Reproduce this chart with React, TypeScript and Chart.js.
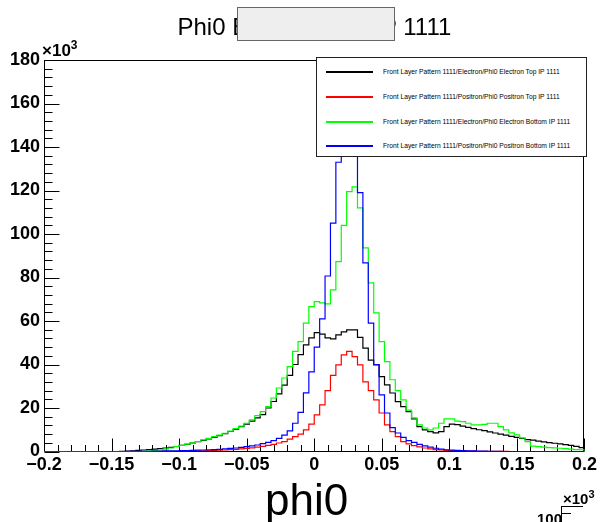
import React, { useEffect, useRef } from "react";
import { Chart, registerables } from "chart.js";

Chart.register(...registerables);

// ---- histogram binning (100 bins from -0.2 to 0.2) ----
const X_MIN = -0.2;
const X_MAX = 0.2;
const BIN_WIDTH = 0.004;

// ---- axis ticks ----
const xTickValues = [-0.2, -0.15, -0.1, -0.05, 0, 0.05, 0.1, 0.15, 0.2];
const xTickLabels = ["\u22120.2", "\u22120.15", "\u22120.1", "\u22120.05", "0", "0.05", "0.1", "0.15", "0.2"];
const xMinorPerMajor = 5;
const yTickValues = [0, 20, 40, 60, 80, 100, 120, 140, 160, 180];
const yMinorPerMajor = 5;

// ---- series (bin contents, in units of 10^3) ----
const seriesNames = [
  "Front Layer Pattern 1111/Electron/Phi0 Electron Top IP 1111",
  "Front Layer Pattern 1111/Positron/Phi0 Positron Top IP 1111",
  "Front Layer Pattern 1111/Electron/Phi0 Electron Bottom IP 1111",
  "Front Layer Pattern 1111/Positron/Phi0 Positron Bottom IP 1111",
];
const seriesColors = ["#000000", "#ff0000", "#00ff00", "#0000ff"];

const electronTop = [
  0, 0, 0, 0, 0, 0, 0, 0, 0, 0,
  0, 0, 0, 0, 0.1, 0.2, 0.3, 0.5, 0.7, 0.9,
  1.1, 1.3, 1.6, 1.9, 2.3, 2.8, 3.3, 3.9, 4.5, 5.1,
  5.8, 6.5, 7.3, 8.2, 9.2, 10.2, 11.4, 12.6, 14, 15.5,
  17, 20, 23, 26.5, 30.5, 35, 40, 44.5, 49, 52.2,
  54.7, 54, 52.2, 51.8, 53.6, 55, 55.9, 55.9, 52.5, 47.5,
  42, 39.8, 34.4, 30.6, 26.9, 22.9, 20.6, 18.3, 15, 11.4,
  9.9, 9.1, 8.6, 9.1, 11.4, 12.6, 12.4, 11.7, 11.1, 10.5,
  10, 9.6, 9, 8.5, 8, 7.5, 7, 6.5, 6, 5.5,
  5.2, 4.8, 4.4, 4.1, 3.8, 3.5, 3.2, 2.8, 2.4, 1.8,
];

const positronTop = [
  0, 0, 0, 0, 0, 0, 0, 0, 0, 0,
  0, 0, 0, 0, 0, 0, 0, 0, 0, 0,
  0.05, 0.07, 0.1, 0.1, 0.12, 0.15, 0.2, 0.25, 0.3, 0.35,
  0.4, 0.5, 0.6, 0.7, 0.85, 1, 1.2, 1.4, 1.7, 2,
  2.4, 2.8, 3.3, 3.9, 4.5, 5.7, 6.8, 8, 9.9, 12.6,
  16.8, 21.4, 28, 35, 39.8, 44.4, 46, 43.6, 39.8, 32,
  28, 23.7, 17.7, 12.2, 9.1, 6.8, 4.5, 3.5, 2.7, 2.1,
  1.6, 1.2, 0.9, 0.7, 0.5, 0.4, 0.3, 0.25, 0.2, 0.15,
  0.1, 0.08, 0.06, 0.05, 0.04, 0.03, 0, 0, 0, 0,
  0, 0, 0, 0, 0, 0, 0, 0, 0, 0,
];

const electronBottom = [
  0, 0, 0, 0, 0, 0, 0, 0, 0, 0,
  0, 0, 0, 0, 0, 0, 0, 0, 0.1, 0.2,
  0.4, 0.7, 1.1, 1.6, 2.2, 2.8, 3.4, 4, 4.6, 5.3,
  6, 6.8, 7.5, 8.4, 9.4, 10.5, 11.7, 13, 14.5, 16.5,
  18.3, 20.6, 24.6, 29.2, 33.8, 39, 46, 50.5, 59, 66.6,
  68.9, 68.3, 67.9, 74.3, 87.3, 104, 119.5, 121.7, 112, 93.6,
  77.5, 63.7, 50.5, 41.3, 33, 28, 23.7, 19, 15.5, 12.2,
  10.8, 9.9, 10.8, 13, 15, 15, 14, 13.7, 13, 12.2,
  12.2, 12.5, 13, 13, 11.4, 9.9, 8.6, 7.6, 6.2, 4.5,
  2.5, 2.2, 2, 1.8, 1.7, 1.5, 1.3, 1.1, 0.9, 0.8,
];

const positronBottom = [
  0, 0, 0, 0, 0, 0, 0, 0, 0, 0,
  0, 0, 0, 0, 0, 0.1, 0.1, 0.1, 0.1, 0.1,
  0.15, 0.2, 0.25, 0.3, 0.35, 0.4, 0.45, 0.5, 0.6, 0.7,
  0.8, 0.9, 1, 1.2, 1.4, 1.6, 1.9, 2.2, 2.6, 3,
  3.6, 4.2, 5, 6, 7.5, 9.5, 13, 18, 27, 36.6,
  48, 61, 80.7, 105, 133, 162, 178, 168, 119, 86.7,
  59, 40, 26, 17.7, 11, 8.5, 6.5, 5, 4.2, 3.3,
  2.6, 2, 1.5, 1.1, 0.8, 0.6, 0.5, 0.4, 0.3, 0.25,
  0.2, 0.15, 0.1, 0.1, 0.05, 0, 0, 0, 0, 0,
  0, 0, 0, 0, 0, 0, 0, 0, 0, 0,
];

const seriesValues = [electronTop, positronTop, electronBottom, positronBottom];

const FONT = "'Liberation Sans', Arial, Helvetica, sans-serif";

function histPoints(values: number[]) {
  const pts = values.map((v, i) => ({ x: X_MIN + i * BIN_WIDTH, y: v }));
  pts.push({ x: X_MAX, y: values[values.length - 1] });
  pts.push({ x: X_MAX, y: 0 });
  return pts;
}

const rootFrame = {
  id: "rootFrame",
  beforeDatasetsDraw(chart: any) {
    const { ctx, chartArea: a, scales } = chart;
    const xs = scales.x;
    const ys = scales.y;
    ctx.save();
    ctx.strokeStyle = "#000";
    ctx.lineWidth = 1;
    const L = Math.round(a.left) + 0.5;
    const R = Math.round(a.right) - 0.5;
    const T = Math.round(a.top) + 0.5;
    const B = Math.round(a.bottom) - 0.5;
    ctx.strokeRect(L, T, R - L, B - T);
    ctx.beginPath();
    const yStep = (yTickValues[1] - yTickValues[0]) / yMinorPerMajor;
    const yN = (yTickValues.length - 1) * yMinorPerMajor;
    for (let k = 0; k <= yN; k++) {
      const v = yTickValues[0] + k * yStep;
      const py = Math.round(ys.getPixelForValue(v)) + 0.5;
      const len = k % yMinorPerMajor === 0 ? 15 : 8;
      ctx.moveTo(L, py);
      ctx.lineTo(L + len, py);
    }
    const xStep = (xTickValues[1] - xTickValues[0]) / xMinorPerMajor;
    const xN = (xTickValues.length - 1) * xMinorPerMajor;
    for (let k = 0; k <= xN; k++) {
      const v = xTickValues[0] + k * xStep;
      const px = Math.round(xs.getPixelForValue(v)) + 0.5;
      const len = k % xMinorPerMajor === 0 ? 13 : 6.5;
      ctx.moveTo(px, B);
      ctx.lineTo(px, B - len);
    }
    ctx.stroke();
    ctx.restore();
  },
};

export default function App() {
  const ref = useRef<HTMLCanvasElement | null>(null);

  useEffect(() => {
    if (!ref.current) return;
    const chart = new Chart(ref.current, {
      type: "line",
      data: {
        datasets: seriesValues.map((vals, i) => ({
          label: seriesNames[i],
          data: histPoints(vals),
          borderColor: seriesColors[i],
          backgroundColor: seriesColors[i],
          borderWidth: 1.2,
          pointRadius: 0,
          stepped: "before" as const,
          fill: false,
          order: seriesValues.length - i,
        })),
      },
      options: {
        responsive: false,
        maintainAspectRatio: false,
        animation: false,
        parsing: false,
        normalized: true,
        layout: { padding: { top: 60, right: 15, left: 0, bottom: 0 } },
        plugins: {
          legend: { display: false },
          tooltip: { enabled: false },
          title: { display: false },
        },
        scales: {
          x: {
            type: "linear",
            min: X_MIN,
            max: X_MAX,
            grid: { display: false, drawTicks: false },
            border: { display: false },
            afterBuildTicks: (s: any) => {
              s.ticks = xTickValues.map((v) => ({ value: v }));
            },
            afterFit: (s: any) => {
              s.height = 70.5;
            },
            ticks: {
              autoSkip: false,
              maxRotation: 0,
              minRotation: 0,
              padding: 3,
              color: "#000",
              font: { family: FONT, size: 18, weight: "bold" },
              callback: (_v: any, i: number) => xTickLabels[i],
            },
          },
          y: {
            type: "linear",
            min: yTickValues[0],
            max: yTickValues[yTickValues.length - 1],
            grid: { display: false, drawTicks: false },
            border: { display: false },
            afterBuildTicks: (s: any) => {
              s.ticks = yTickValues.map((v) => ({ value: v }));
            },
            afterFit: (s: any) => {
              s.width = 44;
            },
            ticks: {
              autoSkip: false,
              padding: 4,
              color: "#000",
              font: { family: FONT, size: 18, weight: "bold" },
              callback: (v: any) => String(v),
            },
          },
        },
      },
      plugins: [rootFrame],
    });
    return () => chart.destroy();
  }, []);

  const legendTop = [12.5, 37.5, 62.5, 86.5];

  return (
    <div
      style={{
        position: "fixed",
        left: 0,
        top: 0,
        width: 600,
        height: 522,
        overflow: "hidden",
        background: "#fff",
        fontFamily: FONT,
      }}
    >
      <canvas ref={ref} width={600} height={522} style={{ display: "block", width: 600, height: 522 }} />

      {/* title */}
      <span style={{ position: "absolute", left: 177.5, top: 14.5, fontSize: 24, lineHeight: "24px", whiteSpace: "pre" }}>
        Phi0 E
      </span>
      <span style={{ position: "absolute", left: 381, top: 14.5, fontSize: 24, lineHeight: "24px", whiteSpace: "pre" }}>
        P 1111
      </span>
      <div
        style={{
          position: "absolute",
          left: 237,
          top: 7,
          width: 158,
          height: 34,
          boxSizing: "border-box",
          background: "#eeeeee",
          border: "1.5px solid #666",
        }}
      />

      {/* y axis exponent */}
      <span style={{ position: "absolute", left: 42, top: 42, fontSize: 17, lineHeight: "17px", fontWeight: "bold", whiteSpace: "pre" }}>
        ×10
        <span style={{ fontSize: 12, position: "relative", top: -7 }}>3</span>
      </span>

      {/* x axis title */}
      <span style={{ position: "absolute", left: 265, top: 478, fontSize: 44, lineHeight: "44px", whiteSpace: "pre" }}>
        phi0
      </span>

      {/* bottom-right fragment */}
      <span style={{ position: "absolute", left: 563, top: 491, fontSize: 15, lineHeight: "15px", fontWeight: "bold", whiteSpace: "pre" }}>
        ×10
        <span style={{ fontSize: 11, position: "relative", top: -6 }}>3</span>
      </span>
      <span style={{ position: "absolute", left: 537, top: 511, fontSize: 15, lineHeight: "15px", fontWeight: "bold", whiteSpace: "pre" }}>
        100
      </span>
      <div style={{ position: "absolute", left: 561, top: 506, width: 22, height: 1, background: "#000" }} />
      <div style={{ position: "absolute", left: 561, top: 506, width: 1, height: 16, background: "#000" }} />
      <div style={{ position: "absolute", left: 561, top: 513, width: 10, height: 1, background: "#000" }} />

      {/* legend */}
      <div
        style={{
          position: "absolute",
          left: 316,
          top: 57,
          width: 271,
          height: 100,
          boxSizing: "border-box",
          background: "#fff",
          border: "1px solid #222",
        }}
      >
        {seriesNames.map((name, i) => (
          <div key={name}>
            <div
              style={{
                position: "absolute",
                left: 9,
                top: legendTop[i],
                width: 47,
                height: 2,
                background: seriesColors[i],
              }}
            />
            <span
              style={{
                position: "absolute",
                left: 66,
                top: legendTop[i] - 3,
                fontSize: 6.7,
                lineHeight: "8px",
                whiteSpace: "pre",
                color: "#000",
              }}
            >
              {name}
            </span>
          </div>
        ))}
      </div>
    </div>
  );
}
